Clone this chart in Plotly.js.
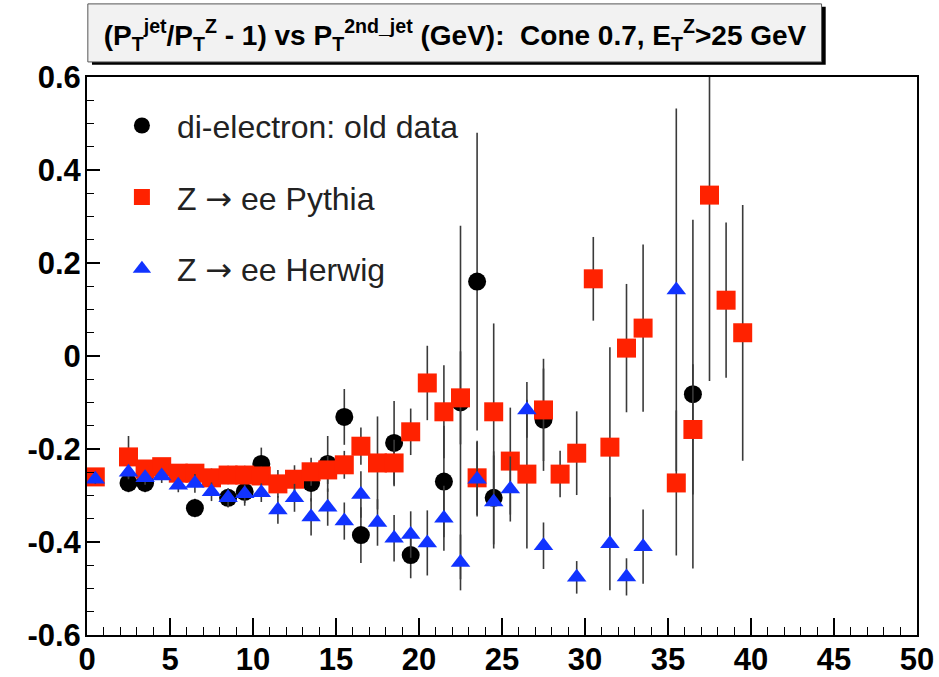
<!DOCTYPE html>
<html><head><meta charset="utf-8">
<script src="https://cdn.plot.ly/plotly-3.0.1.min.js"></script>
<style>body{margin:0;background:#fff}#chart{width:939px;height:677px}</style>
</head><body><div id="chart"></div>
<script>
// di-electron: old data
const dataX   = [2.5, 3.5, 6.5, 8.5, 9.5, 10.5, 13.5, 14.5, 15.5, 16.5, 18.5, 19.5, 21.5, 22.5, 23.5, 24.5, 27.5, 36.5];
const dataY   = [-0.273, -0.273, -0.327, -0.305, -0.292, -0.232, -0.273, -0.232, -0.131, -0.385, -0.187, -0.428, -0.27, -0.1, 0.16, -0.305, -0.137, -0.082];
const dataErr = [0.02, 0.02, 0.02, 0.02, 0.03, 0.035, 0.04, 0.06, 0.06, 0.06, 0.09, 0.05, 0.12, 0.38, 0.32, 0.1, 0.11, 0.375];

// Z -> ee Pythia
const pythiaX   = [0.5, 2.5, 3.5, 4.5, 5.5, 6.5, 7.5, 8.5, 9.5, 10.5, 11.5, 12.5, 13.5, 14.5, 15.5, 16.5, 17.5, 18.5, 19.5, 20.5, 21.5, 22.5, 23.5, 24.5, 25.5, 26.5, 27.5, 28.5, 29.5, 30.5, 31.5, 32.5, 33.5, 35.5, 36.5, 37.5, 38.5, 39.5];
const pythiaY   = [-0.26, -0.217, -0.243, -0.238, -0.252, -0.252, -0.262, -0.256, -0.256, -0.258, -0.275, -0.265, -0.249, -0.245, -0.234, -0.194, -0.23, -0.23, -0.163, -0.058, -0.12, -0.09, -0.262, -0.12, -0.226, -0.254, -0.116, -0.254, -0.209, 0.166, -0.196, 0.017, 0.06, -0.273, -0.158, 0.346, 0.12, 0.05];
const pythiaErr = [0.01, 0.045, 0.015, 0.015, 0.015, 0.02, 0.02, 0.02, 0.02, 0.02, 0.03, 0.03, 0.03, 0.03, 0.03, 0.04, 0.1, 0.05, 0.05, 0.08, 0.1, 0.1, 0.08, 0.19, 0.115, 0.16, 0.11, 0.05, 0.09, 0.09, 0.215, 0.138, 0.18, 0.156, 0.14, 0.40, 0.167, 0.275];

// Z -> ee Herwig
const herwigX   = [0.5, 2.5, 3.5, 4.5, 5.5, 6.5, 7.5, 8.5, 9.5, 10.5, 11.5, 12.5, 13.5, 14.5, 15.5, 16.5, 17.5, 18.5, 19.5, 20.5, 21.5, 22.5, 23.5, 24.5, 25.5, 26.5, 27.5, 29.5, 31.5, 32.5, 33.5, 35.5];
const herwigY   = [-0.265, -0.25, -0.262, -0.258, -0.278, -0.274, -0.292, -0.305, -0.296, -0.294, -0.331, -0.305, -0.346, -0.325, -0.355, -0.298, -0.358, -0.392, -0.384, -0.402, -0.349, -0.444, -0.265, -0.314, -0.286, -0.116, -0.408, -0.476, -0.404, -0.475, -0.41, 0.142];
const herwigErr = [0.01, 0.015, 0.015, 0.015, 0.015, 0.02, 0.02, 0.02, 0.02, 0.02, 0.03, 0.03, 0.04, 0.04, 0.04, 0.05, 0.05, 0.05, 0.05, 0.07, 0.07, 0.06, 0.08, 0.1, 0.07, 0.06, 0.05, 0.035, 0.1, 0.04, 0.08, 0.39];

const ARROW = '<span style="font-family:DejaVu Sans">\u2192</span>';
const seriesNames = ['di-electron: old data', 'Z ' + ARROW + ' ee Pythia', 'Z ' + ARROW + ' ee Herwig'];
const xTickVals = [0, 5, 10, 15, 20, 25, 30, 35, 40, 45, 50];
const yTickVals = [-0.6, -0.4, -0.2, 0, 0.2, 0.4, 0.6];
const yTickText = ['-0.6', '-0.4', '-0.2', '0', '0.2', '0.4', '0.6'];
const titleText = '(P<sub>T</sub><sup>jet</sup>/P<sub>T</sub><sup>Z</sup> - 1) vs P<sub>T</sub><sup>2nd_jet</sup> (GeV):  Cone 0.7, E<sub>T</sub><sup>Z</sup>&gt;25 GeV';

function errBar(arr) {
  return {type: 'data', array: arr, visible: true, color: '#3a3a3a', thickness: 1.6, width: 0};
}

const traces = [
  {x: dataX, y: dataY, error_y: errBar(dataErr), mode: 'markers', type: 'scatter', name: seriesNames[0], legendgroup: 'a',
   marker: {symbol: 'circle', size: 18, color: '#000000'}},
  {x: pythiaX, y: pythiaY, error_y: errBar(pythiaErr), mode: 'markers', type: 'scatter', name: seriesNames[1], legendgroup: 'b',
   marker: {symbol: 'square', size: 19, color: '#ff2200'}},
  {x: herwigX, y: herwigY, error_y: errBar(herwigErr), mode: 'markers', type: 'scatter', name: seriesNames[2], legendgroup: 'c',
   marker: {symbol: 'triangle-up', size: 17, color: '#1133ff'}}
];

const tickFont = {family: 'Liberation Sans, Arial, sans-serif', size: 31, weight: 'bold', color: '#000'};

const layout = {
  width: 939, height: 677,
  margin: {l: 87, r: 22, t: 77, b: 42},
  paper_bgcolor: '#ffffff', plot_bgcolor: '#ffffff',
  showlegend: true,
  legend: {x: 0.024, y: 0.962, xanchor: 'left', yanchor: 'top', bgcolor: 'rgba(0,0,0,0)', borderwidth: 0,
           font: {family: 'Liberation Sans, Arial, sans-serif', size: 32, color: '#222'}, tracegroupgap: 27, itemwidth: 60},
  title: {text: titleText, x: 455/939, xanchor: 'center', y: 1 - 35/677, yanchor: 'middle', xref: 'container', yref: 'container',
          font: {family: 'Liberation Sans, Arial, sans-serif', size: 28, weight: 'bold', color: '#000'}},
  xaxis: {range: [0, 50], tickmode: 'array', tickvals: xTickVals, ticks: 'inside', ticklen: 17, tickwidth: 1.5, tickcolor: '#000',
          minor: {dtick: 1, tick0: 0, ticks: 'inside', ticklen: 8, tickwidth: 1.2, tickcolor: '#000'},
          showline: true, linecolor: '#000', linewidth: 2, mirror: true, showgrid: false, zeroline: false,
          tickfont: tickFont, ticklabelstandoff: -4, fixedrange: true},
  yaxis: {range: [-0.6, 0.6], tickmode: 'array', tickvals: yTickVals, ticktext: yTickText, ticks: 'inside', ticklen: 13, tickwidth: 1.5, tickcolor: '#000',
          minor: {dtick: 0.05, tick0: 0, ticks: 'inside', ticklen: 7, tickwidth: 1.2, tickcolor: '#000'},
          showline: true, linecolor: '#000', linewidth: 2, mirror: true, showgrid: false, zeroline: false,
          tickfont: tickFont, ticklabelstandoff: -2, fixedrange: true},
  shapes: [
    {type: 'rect', xref: 'paper', yref: 'paper', x0: 0.006, x1: 0.890, y0: 1.022, y1: 1.126, fillcolor: '#000', line: {width: 0}, layer: 'above'},
    {type: 'rect', xref: 'paper', yref: 'paper', x0: 0.001, x1: 0.885, y0: 1.027, y1: 1.131, fillcolor: '#f2f2f2', line: {color: '#555', width: 1}, layer: 'above'}
  ]
};

Plotly.newPlot('chart', traces, layout, {displayModeBar: false, staticPlot: true});
</script>
</body></html>
